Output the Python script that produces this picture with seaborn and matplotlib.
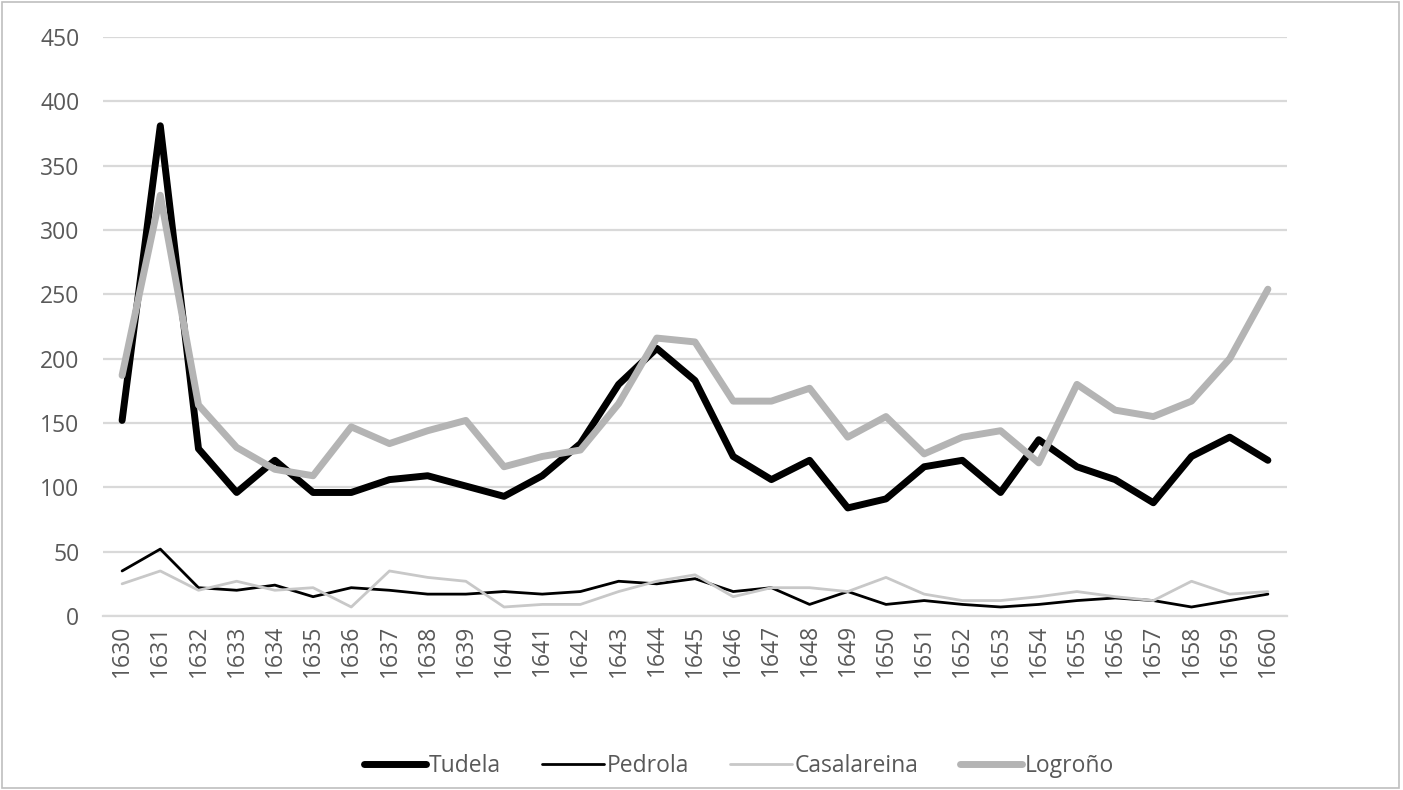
import matplotlib
matplotlib.use("Agg")
import matplotlib.pyplot as plt
import seaborn as sns
import pandas as pd
from matplotlib.patches import Rectangle

years = list(range(1630, 1661))
tudela = [152, 381, 130, 96, 121, 96, 96, 106, 109, 101, 93, 109, 134, 180, 208,
          183, 124, 106, 121, 84, 91, 116, 121, 96, 137, 116, 106, 88, 124, 139, 121]
pedrola = [35, 52, 22, 20, 24, 15, 22, 20, 17, 17, 19, 17, 19, 27, 25,
           29, 19, 22, 9, 19, 9, 12, 9, 7, 9, 12, 14, 12, 7, 12, 17]
casalareina = [25, 35, 20, 27, 20, 22, 7, 35, 30, 27, 7, 9, 9, 19, 27,
               32, 15, 22, 22, 19, 30, 17, 12, 12, 15, 19, 15, 12, 27, 17, 19]
logrono = [187, 327, 164, 131, 114, 109, 147, 134, 144, 152, 116, 124, 129, 165, 216,
           213, 167, 167, 177, 139, 155, 126, 139, 144, 119, 180, 160, 155, 167, 200, 254]
y_ticks = [0, 50, 100, 150, 200, 250, 300, 350, 400, 450]

series_names = ["Tudela", "Pedrola", "Casalareina", "Logroño"]
series_values = [tudela, pedrola, casalareina, logrono]
colors = {"Tudela": "#000000", "Pedrola": "#000000",
          "Casalareina": "#c8c8c8", "Logroño": "#b4b4b4"}
widths = {"Tudela": 5.0, "Pedrola": 2.0, "Casalareina": 2.0, "Logroño": 5.0}

rows = []
for name, vals in zip(series_names, series_values):
    for i, (yr, v) in enumerate(zip(years, vals)):
        rows.append({"pos": i, "year": yr, "value": v, "series": name})
df = pd.DataFrame(rows)

sns.set_theme(style="white")
plt.rcParams["font.family"] = ["Open Sans", "DejaVu Sans"]
text_color = "#595959"

fig = plt.figure(figsize=(14.03, 7.90), dpi=100)
ax = fig.add_axes([103 / 1403, 1 - 616 / 790, (1287 - 103) / 1403, (616 - 37) / 790])

for name in series_names:
    sub = df[df["series"] == name]
    sns.lineplot(data=sub, x="pos", y="value", ax=ax, color=colors[name],
                 linewidth=widths[name], label=name, legend=False,
                 solid_joinstyle="round", solid_capstyle="round")

ax.set_xlim(-0.5, len(years) - 0.5)
ax.set_ylim(0, 450)
ax.set_yticks(y_ticks)
ax.set_yticklabels([str(t) for t in y_ticks], fontsize=16.5, color=text_color)
ax.set_xticks(range(len(years)))
ax.set_xticklabels([str(y) for y in years], rotation=90, fontsize=16.5, color=text_color)
ax.tick_params(axis="y", length=0, pad=17)
ax.tick_params(axis="x", length=0, pad=6)
ax.set_xlabel("")
ax.set_ylabel("")
ax.grid(axis="y", color="#d9d9d9", linewidth=1.6)
ax.grid(axis="x", visible=False)
ax.set_axisbelow(True)
for side in ["top", "right", "left"]:
    ax.spines[side].set_visible(False)
ax.spines["bottom"].set_color("#d9d9d9")
ax.spines["bottom"].set_linewidth(1.6)

handles, labels = ax.get_legend_handles_labels()
leg = fig.legend(handles, labels, loc="center", bbox_to_anchor=(739 / 1403, 1 - 766 / 790),
                 ncol=4, frameon=False, fontsize=16.5, handlelength=2.7,
                 handletextpad=0.12, columnspacing=1.8)
for t in leg.get_texts():
    t.set_color(text_color)

fig.patches.append(Rectangle((0.0015, 0.002), 0.996, 0.996, transform=fig.transFigure,
                             fill=False, edgecolor="#bfbfbf", linewidth=1.2))

fig.savefig("out.png", dpi=100, facecolor="white")
